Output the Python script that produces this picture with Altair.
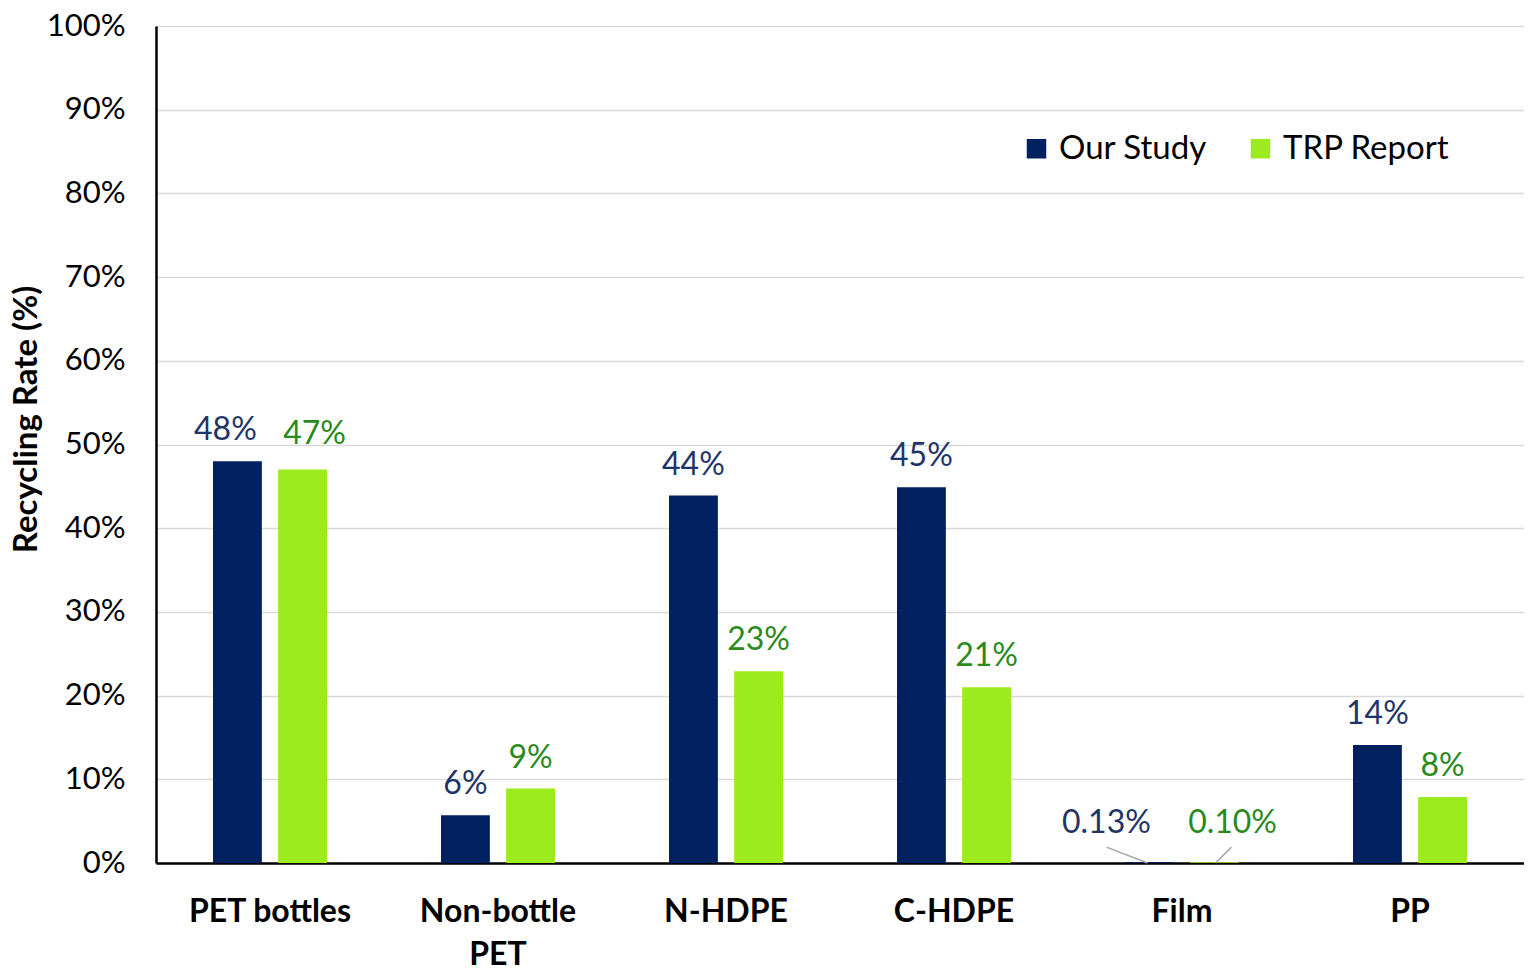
import altair as alt
import pandas as pd

categories = ["PET bottles", "Non-bottle PET", "N-HDPE", "C-HDPE", "Film", "PP"]
series = ["Our Study", "TRP Report"]
our_study = [48.0, 5.7, 43.9, 44.9, 0.13, 14.1]
trp_report = [47.0, 8.9, 22.9, 21.0, 0.10, 7.9]
our_labels = ["48%", "6%", "44%", "45%", "0.13%", "14%"]
trp_labels = ["47%", "9%", "23%", "21%", "0.10%", "8%"]

bar_colors = ["#002060", "#9BEB1E"]
text_colors = ["#1F3468", "#2A8A1C"]
FONT = "Lato"

rows = []
for c, v, l in zip(categories, our_study, our_labels):
    rows.append({"Category": c, "Series": series[0], "Value": v, "Label": l})
for c, v, l in zip(categories, trp_report, trp_labels):
    rows.append({"Category": c, "Series": series[1], "Value": v, "Label": l})
df = pd.DataFrame(rows)

x_enc = alt.X(
    "Category:N",
    sort=categories,
    scale=alt.Scale(paddingInner=0.5, paddingOuter=0.25),
    axis=alt.Axis(
        title=None,
        labelFont=FONT,
        labelFontSize=32,
        labelFontWeight="bold",
        labelColor="#000000",
        labelPadding=33,
        labelAngle=0,
        labelLineHeight=43,
        labelExpr="datum.label == 'Non-bottle PET' ? ['Non-bottle', 'PET'] : datum.label",
        ticks=False,
        domainColor="#000000",
        domainWidth=2.5,
        grid=False,
    ),
)
xo_enc = alt.XOffset(
    "Series:N", sort=series, scale=alt.Scale(paddingInner=0.25, paddingOuter=0)
)
y_enc = alt.Y(
    "Value:Q",
    scale=alt.Scale(domain=[0, 100]),
    axis=alt.Axis(
        title="Recycling Rate (%)",
        titleFont=FONT,
        titleFontSize=33,
        titleFontWeight="bold",
        titleColor="#000000",
        titlePadding=3,
        titleY=393,
        labelFont=FONT,
        labelFontSize=31,
        labelColor="#000000",
        labelPadding=31,
        labelExpr="datum.value + '%'",
        values=list(range(0, 101, 10)),
        ticks=False,
        domainColor="#000000",
        domainWidth=2.5,
        grid=True,
        gridColor="#D9D9D9",
        gridWidth=1.5,
    ),
)

base = alt.Chart(df)

bars = base.mark_bar().encode(
    x=x_enc,
    xOffset=xo_enc,
    y=y_enc,
    color=alt.Color(
        "Series:N",
        sort=series,
        scale=alt.Scale(domain=series, range=bar_colors),
        legend=alt.Legend(
            title=None,
            orient="none",
            legendX=864,
            legendY=106,
            direction="horizontal",
            symbolType="square",
            symbolSize=380,
            symbolStrokeWidth=0,
            labelFont=FONT,
            labelFontSize=33,
            labelColor="#000000",
            labelOffset=6,
            labelLimit=400,
            columnPadding=37,
        ),
    ),
)

text_color = alt.Color(
    "Series:N", scale=alt.Scale(domain=series, range=text_colors), legend=None
)


def label_layer(cond, dx=0, dy=-31):
    return (
        base.transform_filter(cond)
        .mark_text(font=FONT, fontSize=32, baseline="middle", dx=dx, dy=dy)
        .encode(x=x_enc, xOffset=xo_enc, y=y_enc, text="Label:N", color=text_color)
    )


labels_main = label_layer("datum.Category != 'Film' && datum.Category != 'PET bottles'")
pet_our = label_layer("datum.Category == 'PET bottles' && datum.Series == 'Our Study'", dx=-12, dy=-31)
pet_trp = label_layer("datum.Category == 'PET bottles' && datum.Series == 'TRP Report'", dx=12, dy=-36)
film_our = label_layer("datum.Category == 'Film' && datum.Series == 'Our Study'", dx=-43, dy=-39)
film_trp = label_layer("datum.Category == 'Film' && datum.Series == 'TRP Report'", dx=18, dy=-39)


def leader(cond, off_top, off_bottom):
    return (
        base.transform_filter(cond)
        .mark_rule(color="#A6A6A6", strokeWidth=1.5, xOffset=off_top, x2Offset=off_bottom)
        .encode(
            x=x_enc,
            x2=alt.X2("Category"),
            y=alt.datum(1.9),
            y2=alt.datum(0),
        )
    )


lead_our = leader("datum.Category == 'Film' && datum.Series == 'Our Study'", -75.5, -34.5)
lead_trp = leader("datum.Category == 'Film' && datum.Series == 'TRP Report'", 49.5, 33.5)

chart = (
    alt.layer(bars, labels_main, pet_our, pet_trp, film_our, film_trp, lead_our, lead_trp)
    .resolve_scale(color="independent")
    .properties(
        width=1368,
        height=837,
        padding={"left": 2, "top": 2, "right": 0, "bottom": 0},
        background="#FFFFFF",
    )
    .configure_view(stroke=None)
)

chart.save("out.html", embed_options={"renderer": "svg", "actions": False})
